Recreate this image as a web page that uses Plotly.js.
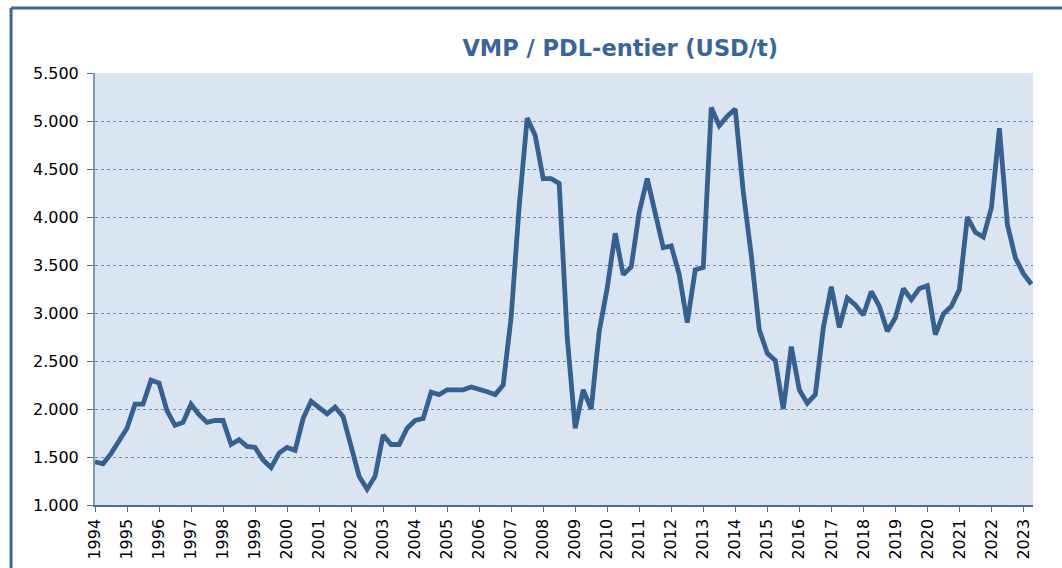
<!DOCTYPE html>
<html>
<head>
<meta charset="utf-8">
<script src="https://cdn.plot.ly/plotly-3.0.1.min.js"></script>
<style>
html,body{margin:0;padding:0;background:#fff;}
#chart{width:1062px;height:568px;}
</style>
</head>
<body>
<div id="chart"></div>
<script>
// Quarterly series, first quarter of 1994 to second quarter of 2023
const startYear = 1994;
const periodsPerYear = 4;
const values = [
  1450, 1430, 1535, 1665,   // 1994
  1800, 2050, 2050, 2300,   // 1995
  2270, 1980, 1830, 1860,   // 1996
  2050, 1940, 1860, 1880,   // 1997
  1880, 1630, 1680, 1610,   // 1998
  1600, 1470, 1390, 1540,   // 1999
  1600, 1570, 1900, 2080,   // 2000
  2020, 1950, 2020, 1920,   // 2001
  1610, 1300, 1165, 1300,   // 2002
  1730, 1630, 1630, 1800,   // 2003
  1880, 1900, 2175, 2150,   // 2004
  2200, 2200, 2200, 2230,   // 2005
  2210, 2180, 2150, 2250,   // 2006
  2960, 4110, 5030, 4850,   // 2007
  4400, 4400, 4350, 2750,   // 2008
  1800, 2200, 2000, 2810,   // 2009
  3260, 3830, 3400, 3480,   // 2010
  4050, 4400, 4040, 3680,   // 2011
  3700, 3400, 2900, 3450,   // 2012
  3475, 5140, 4950, 5050,   // 2013
  5125, 4260, 3600, 2825,   // 2014
  2580, 2505, 2000, 2650,   // 2015
  2200, 2060, 2150, 2845,   // 2016
  3275, 2850, 3155, 3085,   // 2017
  2980, 3225, 3070, 2810,   // 2018
  2950, 3255, 3140, 3255,   // 2019
  3285, 2775, 2990, 3070,   // 2020
  3245, 4000, 3840, 3790,   // 2021
  4095, 4925, 3920, 3575,   // 2022
  3410, 3300                // 2023
];
const yearTicks = [1994,1995,1996,1997,1998,1999,2000,2001,2002,2003,2004,2005,2006,2007,2008,2009,2010,2011,2012,2013,2014,2015,2016,2017,2018,2019,2020,2021,2022,2023];
const yearLabels = yearTicks.map(String);
const yTicks = [1000,1500,2000,2500,3000,3500,4000,4500,5000,5500];
const titleText = 'VMP / PDL-entier (USD/t)';

const xs = values.map((v, i) => startYear + i / periodsPerYear);

const trace = {
  x: xs,
  y: values,
  type: 'scatter',
  mode: 'lines',
  line: {color: '#35608F', width: 4.8},
  hoverinfo: 'skip'
};

const font = 'DejaVu Sans, Verdana, sans-serif';

const layout = {
  width: 1062,
  height: 568,
  paper_bgcolor: '#ffffff',
  plot_bgcolor: '#DBE5F1',
  margin: {l: 95, r: 29, t: 73, b: 63},
  separators: ',.',
  showlegend: false,
  font: {family: font, size: 16, color: '#000'},
  title: {
    text: '<b>' + titleText + '</b>',
    font: {family: font, size: 22.5, color: '#3A659A'},
    x: 0.584, xanchor: 'center', xref: 'container',
    y: 0.915, yanchor: 'middle', yref: 'container'
  },
  xaxis: {
    range: [1994, 2023.3],
    tickmode: 'array',
    tickvals: yearTicks,
    ticktext: yearLabels,
    tickangle: -90,
    ticks: 'outside',
    ticklen: 5,
    tickcolor: '#4A6A9A',
    showline: true,
    linecolor: '#4A6A9A',
    linewidth: 1.5,
    showgrid: false,
    zeroline: false,
    ticklabelstandoff: 1,
    tickfont: {family: font, size: 16, color: '#000'}
  },
  yaxis: {
    range: [1000, 5500],
    tickmode: 'array',
    tickvals: yTicks,
    tickformat: ',.3~f',
    ticks: 'outside',
    ticklen: 6,
    tickcolor: '#4A6A9A',
    showline: true,
    linecolor: '#7F98C0',
    linewidth: 2,
    showgrid: true,
    gridcolor: '#6F8BB6',
    griddash: 'dot',
    gridwidth: 1,
    zeroline: false,
    ticklabelstandoff: 5,
    tickfont: {family: font, size: 16, color: '#000'}
  },
  shapes: [
    {type: 'line', xref: 'paper', yref: 'paper',
     x0: -0.0895, x1: 1.05, y0: 1.1505, y1: 1.1505,
     line: {color: '#3F6699', width: 3}},
    {type: 'line', xref: 'paper', yref: 'paper',
     x0: -0.0895, x1: -0.0895, y0: 1.1505, y1: -0.2,
     line: {color: '#3F6699', width: 3}}
  ]
};

Plotly.newPlot('chart', [trace], layout, {displayModeBar: false, staticPlot: true});
</script>
</body>
</html>
